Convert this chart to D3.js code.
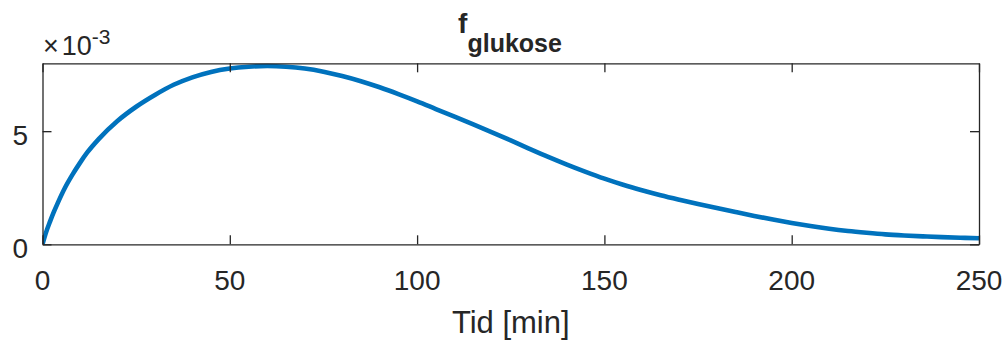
<!DOCTYPE html>
<html>
<head>
<meta charset="utf-8">
<script src="https://cdn.jsdelivr.net/npm/d3@7"></script>
<style>
  html, body { margin: 0; padding: 0; background: #fff; }
  svg { display: block; }
  text { font-family: "Liberation Sans", Arial, Helvetica, sans-serif; fill: #262626; }
</style>
</head>
<body>
<svg id="chart" width="1008" height="340"></svg>
<script>
// ---- data ----
const timeMin = [0, 1, 2, 3, 4, 6, 8, 10, 12, 15, 20, 25, 30, 35, 40, 45, 50, 55, 60, 65, 70, 75, 80, 85, 90, 95, 100, 105, 110, 115, 120, 125, 130, 135, 140, 145, 150, 155, 160, 165, 170, 175, 180, 185, 190, 195, 200, 205, 210, 215, 220, 225, 230, 235, 240, 245, 250];
const fGlukose = [0, 0.55, 1.0, 1.42, 1.8, 2.5, 3.08, 3.6, 4.07, 4.65, 5.45, 6.08, 6.6, 7.05, 7.38, 7.62, 7.77, 7.85, 7.88, 7.85, 7.77, 7.63, 7.44, 7.21, 6.94, 6.64, 6.32, 5.98, 5.64, 5.3, 4.95, 4.59, 4.22, 3.86, 3.52, 3.2, 2.9, 2.63, 2.39, 2.17, 1.97, 1.78, 1.6, 1.425, 1.255, 1.095, 0.945, 0.81, 0.69, 0.59, 0.51, 0.44, 0.39, 0.35, 0.315, 0.29, 0.27].map(v => v * 1e-3);
const xTicks = [0, 50, 100, 150, 200, 250];
const yTicks = [0, 0.005];
const yTickLabels = ["0", "5"];
const xDomain = [0, 250];
const yDomain = [0, 0.008];
const titleMain = "f";
const titleSub = "glukose";
const xLabel = "Tid [min]";

// ---- layout ----
const padL = 42.5, padR = 979, padT = 63.3, padB = 244.3;
const axisColor = "#262626";
const lineColor = "#0072BD";
const tickLen = 9;

const svg = d3.select("#chart");
const x = d3.scaleLinear().domain(xDomain).range([padL, padR]);
const y = d3.scaleLinear().domain(yDomain).range([padB, padT]);

// curve
const data = timeMin.map((t, i) => ({ t, v: fGlukose[i] }));
const clipId = "plotclip";
svg.append("defs").append("clipPath").attr("id", clipId)
  .append("rect").attr("x", padL).attr("y", padT - 4).attr("width", padR - padL).attr("height", padB - padT + 4);

svg.append("path")
  .datum(data)
  .attr("fill", "none")
  .attr("stroke", lineColor)
  .attr("stroke-width", 4.6)
  .attr("stroke-linejoin", "round")
  .attr("stroke-linecap", "butt")
  .attr("clip-path", `url(#${clipId})`)
  .attr("d", d3.line().x(d => x(d.t)).y(d => y(d.v)).curve(d3.curveMonotoneX));

// axes (box with inward ticks)
const fmtNone = () => "";
const axB = svg.append("g").attr("transform", `translate(0,${padB})`)
  .call(d3.axisBottom(x).tickValues(xTicks).tickSizeInner(-tickLen).tickSizeOuter(0).tickFormat(fmtNone));
const axT = svg.append("g").attr("transform", `translate(0,${padT})`)
  .call(d3.axisTop(x).tickValues(xTicks).tickSizeInner(-tickLen).tickSizeOuter(0).tickFormat(fmtNone));
const axL = svg.append("g").attr("transform", `translate(${padL},0)`)
  .call(d3.axisLeft(y).tickValues(yTicks).tickSizeInner(-tickLen).tickSizeOuter(0).tickFormat(fmtNone));
const axR = svg.append("g").attr("transform", `translate(${padR},0)`)
  .call(d3.axisRight(y).tickValues(yTicks).tickSizeInner(-tickLen).tickSizeOuter(0).tickFormat(fmtNone));
[axB, axT, axL, axR].forEach(g => {
  g.selectAll("path.domain").attr("stroke", axisColor).attr("stroke-width", 1.3);
  g.selectAll(".tick line").attr("stroke", axisColor).attr("stroke-width", 1.3);
  g.selectAll(".tick text").remove();
});

// x tick labels
svg.append("g").selectAll("text").data(xTicks).join("text")
  .attr("x", d => x(d)).attr("y", 289.5)
  .attr("text-anchor", "middle").attr("font-size", 28)
  .text(d => d3.format("d")(d));

// y tick labels
svg.append("g").selectAll("text").data(yTicks).join("text")
  .attr("x", 28).attr("y", d => y(d) + 13.5)
  .attr("text-anchor", "end").attr("font-size", 28)
  .text((d, i) => yTickLabels[i]);

// exponent label  ×10^-3
const ex = svg.append("text").attr("x", 43).attr("y", 55).attr("font-size", 27);
ex.append("tspan").text("\u00D7");
ex.append("tspan").attr("dx", 3).text("10");
ex.append("tspan").attr("dy", -11).attr("font-size", 21).text("-3");

// x label
svg.append("text").attr("x", (padL + padR) / 2).attr("y", 333)
  .attr("text-anchor", "middle").attr("font-size", 31).text(xLabel);

// title
const tt = svg.append("text").attr("x", 510).attr("y", 33)
  .attr("text-anchor", "middle").attr("font-weight", "bold").attr("font-size", 28);
tt.append("tspan").text(titleMain);
tt.append("tspan").attr("dy", 19).attr("font-size", 25).text(titleSub);
</script>
</body>
</html>
